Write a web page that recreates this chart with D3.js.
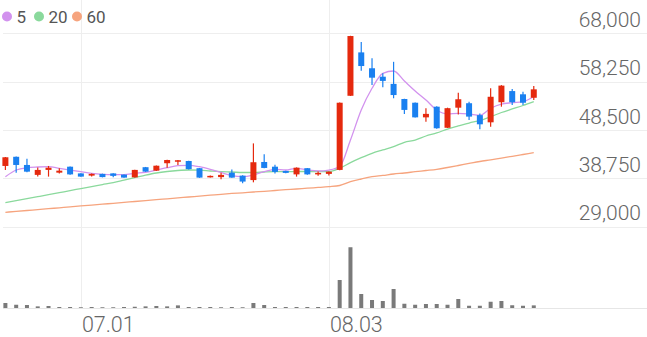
<!DOCTYPE html>
<html>
<head>
<meta charset="utf-8">
<script src="https://cdn.jsdelivr.net/npm/d3@7"></script>
<style>
  body { margin: 0; background: #fff; }
  svg { display: block; font-family: Roboto, "Noto Sans", sans-serif; }
</style>
</head>
<body>
<div id="chart"></div>
<script>
var dates = ["06.22","06.23","06.24","06.25","06.26","06.29","06.30",
  "07.01","07.02","07.03","07.06","07.07","07.08","07.09","07.10","07.13","07.14","07.15","07.16","07.17",
  "07.20","07.21","07.22","07.23","07.24","07.27","07.28","07.29","07.30","07.31",
  "08.03","08.04","08.05","08.06","08.07","08.10","08.11","08.12","08.13","08.14",
  "08.18","08.19","08.20","08.21","08.24","08.25","08.26","08.27","08.28","08.31"]

var opens  = [41250,43100,41450,39450,40450,39900,41100,39750,39300,39650,39750,39500,38950,41000,40300,41800,42200,42250,40800,38950,
              39000,39900,39300,38400,42050,41100,40250,39550,40800,39550,39650,40450,55400,64150,60950,59250,57800,54750,54000,51050,
              53200,48950,53000,53900,51500,50050,54100,56350,55700,55000]
var highs  = [43050,43150,42700,40950,41250,40800,41150,39800,39750,39700,39800,39550,40500,41050,41350,42500,42450,42300,40850,39300,
              39900,40550,39350,45800,43600,41500,40300,40950,40850,40150,40150,54050,67500,66250,62950,59950,62250,54800,54050,52900,
              53300,53000,56000,54200,51850,56900,57550,56750,56200,57350]
var lows   = [40450,39900,40000,39100,39100,39750,39500,39050,39100,38950,38950,38850,38900,40050,40250,40900,41450,40550,38850,38900,
              38550,38850,37750,37950,40800,39750,39800,39100,39500,39250,39300,40400,55350,60450,57550,57100,54900,51750,51000,50150,
              48750,48900,51650,50500,48650,49150,53200,53550,53550,54550]
var closes = [43000,41450,40100,40450,40900,40300,39550,39100,39650,39000,39250,38900,40450,40100,41300,42450,42400,40600,38900,39250,
              39450,38900,38100,42000,40850,40050,39850,40900,39550,39850,40100,54000,67450,61400,59050,58400,55550,52550,51050,51750,
              48850,52900,54700,51200,49650,55200,57450,54100,54000,56700]
var volumes = [200,130,120,65,80,40,40,30,40,30,30,40,50,65,80,65,105,40,40,40,
               30,40,30,200,120,40,40,40,40,40,40,1120,2430,560,320,280,760,170,130,160,
               160,130,360,90,90,250,280,110,90,105]

var ma5  = [39080,40430,40900,41040,41100,40780,40430,40090,39770,39570,39490,39490,39770,39970,40430,40900,41300,41380,41100,40580,
            39930,39290,39080,39430,40090,40580,40430,40780,40430,40230,40430,41140,46480,52530,56910,59930,60400,58380,56370,54550,
            52530,51730,51870,51730,51470,52880,53740,54000,54210,55260]
var ma20 = [33840,34240,34650,35050,35450,35860,36280,36680,37090,37490,37890,38380,38880,39390,39830,40130,40330,40430,40390,40230,
            40090,40030,39930,39930,40030,40090,40090,40130,40130,40130,40130,40780,41910,42910,43800,44470,45130,46020,46480,47290,
            47900,48700,49310,49910,50420,51180,52030,52740,53440,54210]
var ma60 = [31900,32090,32270,32450,32630,32810,32990,33180,33360,33540,33720,33900,34080,34260,34450,34630,34810,34990,35170,35350,
            35530,35700,35840,36000,36140,36300,36460,36600,36770,36910,37070,37310,38080,38620,39080,39330,39630,39830,40090,40330,
            40580,40940,41340,41750,42150,42490,42850,43200,43560,43920]

var yTicks = [29000, 38750, 48500, 58250, 68000]
var xTickLabels = ["07.01", "08.03"]
var maLabels = ["5", "20", "60"]

var upColor = "#e5290e", downColor = "#1a80f0"
var maColors = ["#d292ee", "#8ad99c", "#f6a47e"]

var width = 647, height = 337
var slots = 60

var svg = d3.select("#chart").append("svg")
  .attr("width", width).attr("height", height)

var x = d3.scaleBand()
  .domain(d3.range(slots))
  .range([0, width])
  .paddingInner(0.45)
  .paddingOuter(0.225)
var step = x.step()
function cx(i) { return x(i) + x.bandwidth() / 2 }

var y = d3.scaleLinear().domain([29000, 68000]).range([226.7, 33.3])
var yVol = d3.scaleLinear().domain([0, 2720]).range([308, 240])

// grid
svg.append("g").selectAll("line")
  .data(yTicks).enter().append("line")
  .attr("x1", 3).attr("x2", width)
  .attr("y1", function(d){ return Math.round(y(d)) + 0.5 })
  .attr("y2", function(d){ return Math.round(y(d)) + 0.5 })
  .attr("stroke", "#eeeeee")

svg.append("line")
  .attr("x1", 3).attr("x2", width)
  .attr("y1", 308.5).attr("y2", 308.5)
  .attr("stroke", "#e6e6e6")

svg.append("g").selectAll("line")
  .data(xTickLabels).enter().append("line")
  .attr("x1", function(d){ return Math.round(cx(dates.indexOf(d))) + 0.5 })
  .attr("x2", function(d){ return Math.round(cx(dates.indexOf(d))) + 0.5 })
  .attr("y1", 0).attr("y2", 308)
  .attr("stroke", "#eeeeee")

// y labels
svg.append("g").selectAll("text")
  .data(yTicks).enter().append("text")
  .attr("x", 641)
  .attr("y", function(d){ return y(d) - 6.5 })
  .attr("text-anchor", "end")
  .attr("font-size", 21)
  .attr("font-weight", 300)
  .attr("fill", "#666")
  .text(function(d){ return d3.format(",")(d) })

// x labels
svg.append("g").selectAll("text")
  .data(xTickLabels).enter().append("text")
  .attr("x", function(d){ return cx(dates.indexOf(d)) + 1 })
  .attr("y", 331.5)
  .attr("font-size", 21.5)
  .attr("font-weight", 300)
  .attr("fill", "#666")
  .text(function(d){ return d })

// volume
svg.append("g").selectAll("rect")
  .data(volumes).enter().append("rect")
  .attr("x", function(d, i){ return cx(i) - 2 })
  .attr("width", 4)
  .attr("y", function(d){ return yVol(d) })
  .attr("height", function(d){ return 308 - yVol(d) })
  .attr("fill", "#7a7a7a")

// moving averages
var maSeries = [ma5, ma20, ma60]
var line = d3.line()
  .x(function(d, i){ return cx(i) })
  .y(function(d){ return y(d) })
  .curve(d3.curveMonotoneX)

svg.append("g").selectAll("path")
  .data(maSeries.slice().reverse()).enter().append("path")
  .attr("d", line)
  .attr("fill", "none")
  .attr("stroke", function(d, i){ return maColors[2 - i] })
  .attr("stroke-width", 1.3)

// candles
var candles = svg.append("g").selectAll("g")
  .data(dates).enter().append("g")

candles.append("line")
  .attr("x1", function(d, i){ return cx(i) })
  .attr("x2", function(d, i){ return cx(i) })
  .attr("y1", function(d, i){ return y(highs[i]) })
  .attr("y2", function(d, i){ return y(lows[i]) })
  .attr("stroke", function(d, i){ return closes[i] >= opens[i] ? upColor : downColor })
  .attr("stroke-width", 1.2)

candles.append("rect")
  .attr("x", function(d, i){ return cx(i) - 3 })
  .attr("width", 6)
  .attr("y", function(d, i){ return y(Math.max(opens[i], closes[i])) })
  .attr("height", function(d, i){ return Math.max(1.5, Math.abs(y(opens[i]) - y(closes[i]))) })
  .attr("fill", function(d, i){ return closes[i] >= opens[i] ? upColor : downColor })

// legend
var legendX = [7, 39, 77]
var legend = svg.append("g").selectAll("g")
  .data(maLabels).enter().append("g")
legend.append("circle")
  .attr("cx", function(d, i){ return legendX[i] })
  .attr("cy", 16.5)
  .attr("r", 5)
  .attr("fill", function(d, i){ return maColors[i] })
legend.append("text")
  .attr("x", function(d, i){ return legendX[i] + 9.5 })
  .attr("y", 22.5)
  .attr("font-size", 17)
  .attr("fill", "#555")
  .text(function(d){ return d })
</script>
</body>
</html>
